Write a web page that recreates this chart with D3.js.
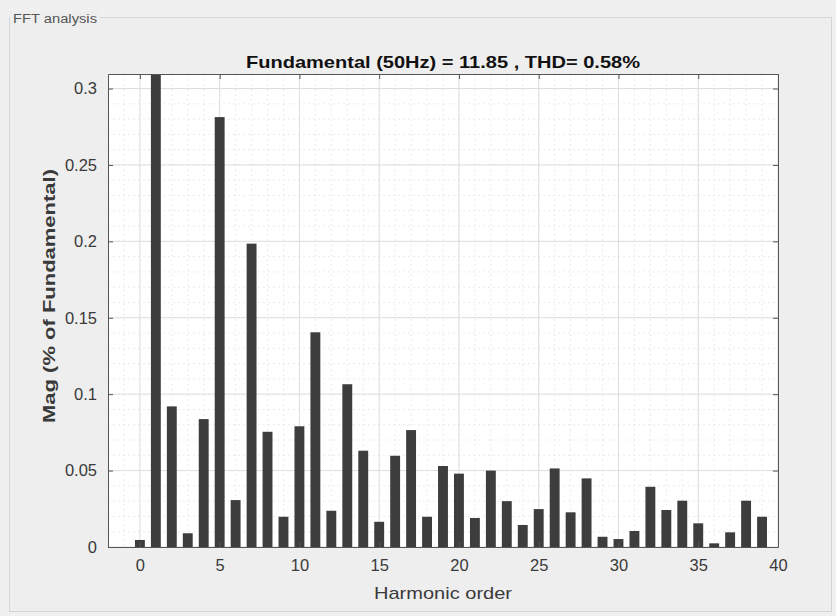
<!DOCTYPE html>
<html lang="en">
<head>
    <meta charset="UTF-8">
    <title>FFT analysis</title>
    <script src="https://d3js.org/d3.v7.min.js"></script>
    <style>
        body { margin: 0; background: #f0f0f0; }
        text { font-family: "Liberation Sans", Arial, sans-serif; }
    </style>
</head>
<body>
    <svg width="836" height="616"></svg>
    <script>
        // harmonic orders 0..39 and magnitudes (% of fundamental)
        const harmonics = d3.range(0, 40);
        const magnitudes = [
            0.0046, 100, 0.092, 0.009, 0.0837, 0.2813, 0.0307, 0.1985, 0.0754, 0.0198,
            0.079, 0.1405, 0.0237, 0.1065, 0.063, 0.0165, 0.0597, 0.0765, 0.0198, 0.053,
            0.048, 0.019, 0.050, 0.030, 0.0144, 0.0248, 0.0514, 0.0227, 0.0449, 0.0067,
            0.0052, 0.0105, 0.0394, 0.0242, 0.0303, 0.0155, 0.0024, 0.0096, 0.0303, 0.0198
        ];
        const xTicks = [0, 5, 10, 15, 20, 25, 30, 35, 40];
        const yTicks = [0, 0.05, 0.1, 0.15, 0.2, 0.25, 0.3];
        const title = "Fundamental (50Hz) = 11.85 , THD= 0.58%";

        const svg = d3.select("svg");
        const margin = { left: 108, top: 74, right: 778, bottom: 547 };

        const x = d3.scaleLinear().domain([-2, 40]).range([margin.left, margin.right]);
        const y = d3.scaleLinear().domain([0, 0.3095]).range([margin.bottom, margin.top]);

        // panel frame
        svg.append("rect").attr("x", 9.5).attr("y", 17.5).attr("width", 822).attr("height", 594)
            .attr("fill", "#eeeeee").attr("stroke", "#d4d4d4");
        svg.append("rect").attr("x", 10).attr("y", 11).attr("width", 90).attr("height", 14).attr("fill", "#eeeeee");
        svg.append("text").attr("x", 13).attr("y", 23).attr("font-size", 12).attr("fill", "#555")
            .attr("textLength", 84).attr("lengthAdjust", "spacingAndGlyphs").text("FFT analysis");

        // plot background
        svg.append("rect").attr("x", margin.left).attr("y", margin.top)
            .attr("width", margin.right - margin.left).attr("height", margin.bottom - margin.top)
            .attr("fill", "#ffffff");

        svg.append("clipPath").attr("id", "clip").append("rect")
            .attr("x", margin.left).attr("y", margin.top)
            .attr("width", margin.right - margin.left).attr("height", margin.bottom - margin.top);

        const grid = svg.append("g");
        // minor grid
        grid.selectAll(".mx").data(d3.range(-2, 40, 1)).enter().append("line")
            .attr("x1", d => x(d)).attr("x2", d => x(d)).attr("y1", margin.top).attr("y2", margin.bottom)
            .attr("stroke", "#ebebeb").attr("stroke-dasharray", "2,3");
        grid.selectAll(".my").data(d3.range(0.01, 0.31, 0.01)).enter().append("line")
            .attr("x1", margin.left).attr("x2", margin.right).attr("y1", d => y(d)).attr("y2", d => y(d))
            .attr("stroke", "#ebebeb").attr("stroke-dasharray", "2,3");
        // major grid
        grid.selectAll(".gx").data(xTicks).enter().append("line")
            .attr("x1", d => x(d)).attr("x2", d => x(d)).attr("y1", margin.top).attr("y2", margin.bottom)
            .attr("stroke", "#dedede");
        grid.selectAll(".gy").data(yTicks).enter().append("line")
            .attr("x1", margin.left).attr("x2", margin.right).attr("y1", d => y(d)).attr("y2", d => y(d))
            .attr("stroke", "#dedede");

        // bars
        const bw = x(0.62) - x(0);
        svg.append("g").attr("clip-path", "url(#clip)")
            .selectAll("rect").data(harmonics).enter().append("rect")
            .attr("x", d => x(d) - bw / 2)
            .attr("width", bw)
            .attr("y", d => y(magnitudes[d]))
            .attr("height", d => y(0) - y(magnitudes[d]))
            .attr("fill", "#3d3d3d");

        // axes
        const axisStyle = g => {
            g.select(".domain").attr("stroke", "#555");
            g.selectAll(".tick line").attr("stroke", "#555");
            g.selectAll(".tick text").attr("fill", "#3a3a3a").attr("font-size", 16.5);
        };
        svg.append("g").attr("transform", `translate(0,${margin.bottom})`)
            .call(d3.axisBottom(x).tickValues(xTicks).tickSizeInner(-5).tickSizeOuter(0).tickPadding(12))
            .call(axisStyle);
        svg.append("g").attr("transform", `translate(${margin.left},0)`)
            .call(d3.axisLeft(y).tickValues(yTicks).tickFormat(d3.format("~g")).tickSizeInner(-5).tickSizeOuter(0).tickPadding(11))
            .call(axisStyle);
        svg.append("g").attr("transform", `translate(0,${margin.top})`)
            .call(d3.axisTop(x).tickValues(xTicks).tickFormat("").tickSizeInner(-5).tickSizeOuter(0))
            .call(axisStyle);
        svg.append("g").attr("transform", `translate(${margin.right},0)`)
            .call(d3.axisRight(y).tickValues(yTicks).tickFormat("").tickSizeInner(-5).tickSizeOuter(0))
            .call(axisStyle);

        // labels
        svg.append("text").attr("x", 443).attr("y", 68).attr("text-anchor", "middle")
            .attr("font-size", 17).attr("font-weight", "bold").attr("fill", "#111")
            .attr("textLength", 394).attr("lengthAdjust", "spacingAndGlyphs").text(title);
        svg.append("text").attr("x", 443).attr("y", 599).attr("text-anchor", "middle")
            .attr("font-size", 17).attr("fill", "#3a3a3a")
            .attr("textLength", 138).attr("lengthAdjust", "spacingAndGlyphs").text("Harmonic order");
        svg.append("text").attr("transform", "translate(55,296) rotate(-90)").attr("text-anchor", "middle")
            .attr("font-size", 16).attr("font-weight", "bold").attr("fill", "#3a3a3a")
            .attr("textLength", 254).attr("lengthAdjust", "spacingAndGlyphs").text("Mag (% of Fundamental)");
    </script>
</body>
</html>
